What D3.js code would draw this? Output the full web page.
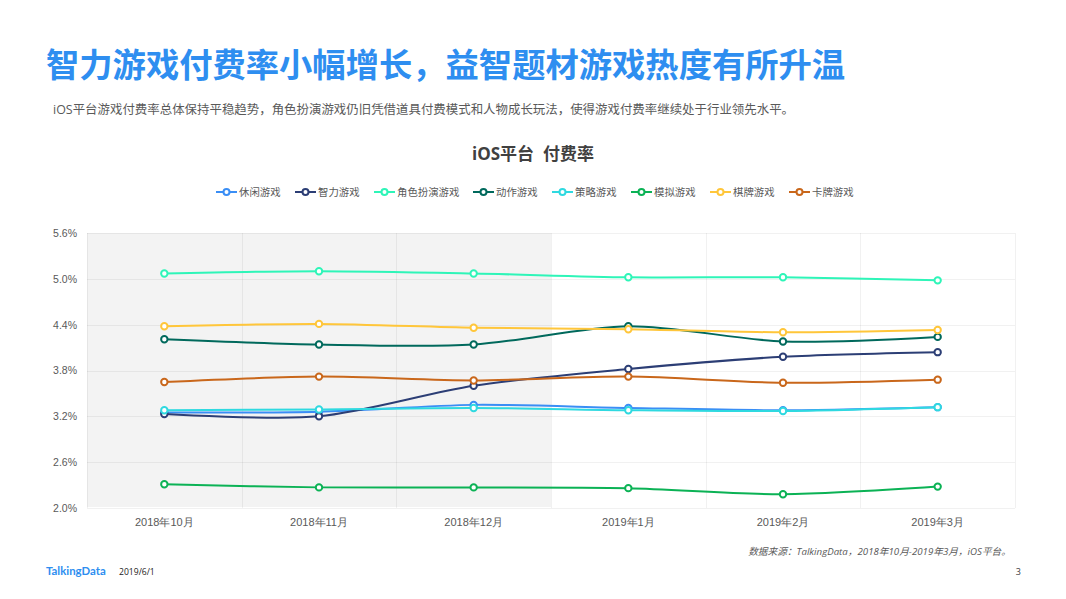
<!DOCTYPE html>
<html>
<head>
<meta charset="utf-8">
<script src="https://cdn.jsdelivr.net/npm/d3@7"></script>
<style>
	body { margin: 0; background: #fff; }
	svg { display: block; font-family: "Open Sans", "Noto Sans CJK SC", sans-serif; }
	.domain { display: none; }
	.tick line { stroke: none; }
	.tick text { fill: #595959; }
</style>
</head>
<body>
<svg id="chart" width="1066" height="599"></svg>
<script>
const months = ["2018年10月", "2018年11月", "2018年12月", "2019年1月", "2019年2月", "2019年3月"];
const yTicks = [2.0, 2.6, 3.2, 3.8, 4.4, 5.0, 5.6];
const seriesNames = ["休闲游戏", "智力游戏", "角色扮演游戏", "动作游戏", "策略游戏", "模拟游戏", "棋牌游戏", "卡牌游戏"];
const seriesColors = ["#3a8ef5", "#2c3e75", "#2ef5b8", "#00695c", "#2fd9e0", "#0bb255", "#ffc63a", "#c9671b"];
const casual = [3.25, 3.26, 3.35, 3.31, 3.28, 3.32];
const puzzle = [3.23, 3.20, 3.60, 3.82, 3.98, 4.04];
const rpg = [5.07, 5.10, 5.07, 5.02, 5.02, 4.98];
const action = [4.21, 4.14, 4.14, 4.38, 4.18, 4.24];
const strategy = [3.28, 3.29, 3.31, 3.28, 3.27, 3.32];
const simulation = [2.31, 2.27, 2.27, 2.26, 2.18, 2.28];
const chess = [4.38, 4.41, 4.36, 4.34, 4.30, 4.33];
const cards = [3.65, 3.72, 3.67, 3.72, 3.64, 3.68];
const seriesValues = [casual, puzzle, rpg, action, strategy, simulation, chess, cards];
const shadedMonths = 3;

const svg = d3.select("#chart");
const margins = { top: 233, right: 51, bottom: 91, left: 87 };
const width = 1066, height = 599;

//Scales
const xScale = d3.scaleBand().domain(months).range([margins.left, width - margins.right]);
const yScale = d3.scaleLinear().domain([2, 5.6]).range([height - margins.bottom, margins.top]);

//Header text
svg.append("text").attr("x", 46).attr("y", 77)
	.attr("fill", "#2e8ef0").attr("font-size", 33.3).attr("font-weight", 700)
	.attr("font-family", "Noto Sans CJK SC")
	.text("智力游戏付费率小幅增长，益智题材游戏热度有所升温");
svg.append("text").attr("x", 53).attr("y", 113.5)
	.attr("fill", "#595959").attr("font-size", 12.45)
	.text("iOS平台游戏付费率总体保持平稳趋势，角色扮演游戏仍旧凭借道具付费模式和人物成长玩法，使得游戏付费率继续处于行业领先水平。");
svg.append("text").attr("x", 533).attr("y", 160).attr("text-anchor", "middle")
	.attr("fill", "#404040").attr("font-size", 17).attr("font-weight", 700)
	.attr("xml:space", "preserve")
	.text("iOS平台  付费率");

//Shaded period and grid
const shadeEnd = margins.left + xScale.bandwidth() * shadedMonths;
svg.append("rect")
	.attr("x", margins.left).attr("y", margins.top)
	.attr("width", shadeEnd - margins.left)
	.attr("height", height - margins.top - margins.bottom - 1)
	.attr("fill", "#f3f3f3");
svg.append("g").selectAll("line").data(yTicks).join("line")
	.attr("x1", margins.left).attr("x2", width - margins.right)
	.attr("y1", d => Math.round(yScale(d)) + 0.5).attr("y2", d => Math.round(yScale(d)) + 0.5)
	.attr("stroke", "#000").attr("stroke-opacity", 0.055);
svg.append("g").selectAll("line").data(d3.range(months.length + 1)).join("line")
	.attr("x1", d => Math.round(margins.left + d * xScale.bandwidth()) + 0.5)
	.attr("x2", d => Math.round(margins.left + d * xScale.bandwidth()) + 0.5)
	.attr("y1", margins.top).attr("y2", height - margins.bottom)
	.attr("stroke", "#000").attr("stroke-opacity", 0.055);

//Axes
svg.append("g").attr("transform", `translate(${margins.left},0)`)
	.call(d3.axisLeft(yScale).tickValues(yTicks).tickSize(0).tickPadding(10).tickFormat(d => d.toFixed(1) + "%"))
	.selectAll("text").attr("font-size", 10.5);
svg.append("g").attr("transform", `translate(0,${height - margins.bottom})`)
	.call(d3.axisBottom(xScale).tickSize(0).tickPadding(10))
	.selectAll("text").attr("font-size", 11);

//Lines and markers
const line = d3.line()
	.x((d, i) => xScale(months[i]) + xScale.bandwidth() / 2)
	.y(d => yScale(d))
	.curve(d3.curveCardinal.tension(0.15));

seriesValues.forEach((values, s) => {
	const g = svg.append("g");
	g.append("path").datum(values)
		.attr("d", line).attr("fill", "none")
		.attr("stroke", seriesColors[s]).attr("stroke-width", 2);
	g.selectAll("circle").data(values).join("circle")
		.attr("cx", (d, i) => xScale(months[i]) + xScale.bandwidth() / 2)
		.attr("cy", d => yScale(d))
		.attr("r", 3.2).attr("fill", "#fff")
		.attr("stroke", seriesColors[s]).attr("stroke-width", 2);
});

//Legend
let legendX = 216;
const legendY = 192;
seriesNames.forEach((name, s) => {
	const g = svg.append("g").attr("transform", `translate(${legendX},${legendY})`);
	g.append("line").attr("x1", 0).attr("x2", 21)
		.attr("stroke", seriesColors[s]).attr("stroke-width", 2);
	g.append("circle").attr("cx", 10.5).attr("r", 3).attr("fill", "#fff")
		.attr("stroke", seriesColors[s]).attr("stroke-width", 2);
	g.append("text").attr("x", 23).attr("y", 4).attr("fill", "#595959").attr("font-size", 10.4).text(name);
	legendX += 23 + name.length * 10 + 16;
});

//Footer
svg.append("text").attr("x", 1011).attr("y", 555).attr("text-anchor", "end")
	.attr("fill", "#595959").attr("font-size", 9.7).attr("font-style", "italic")
	.text("数据来源：TalkingData，2018年10月-2019年3月，iOS平台。");
svg.append("text").attr("x", 46).attr("y", 575)
	.attr("fill", "#2e8ef0").attr("font-size", 11.4).attr("font-weight", 700)
	.attr("font-family", "Lato")
	.text("TalkingData");
svg.append("text").attr("x", 119).attr("y", 574.5)
	.attr("fill", "#222").attr("font-size", 8.6).text("2019/6/1");
svg.append("text").attr("x", 1021).attr("y", 574.5).attr("text-anchor", "end")
	.attr("fill", "#404040").attr("font-size", 9).text("3");
</script>
</body>
</html>
